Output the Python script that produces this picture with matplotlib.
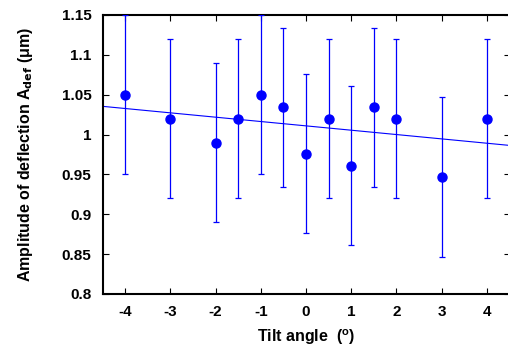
import matplotlib
matplotlib.use("Agg")
import matplotlib.pyplot as plt
import numpy as np

# Tilt angle (degrees) and measured deflection amplitude (um)
tilt = [-4, -3, -2, -1.5, -1, -0.5, 0, 0.5, 1, 1.5, 2, 3, 4]
amplitude = [1.05, 1.02, 0.99, 1.02, 1.05, 1.034, 0.976, 1.02, 0.961, 1.034, 1.02, 0.947, 1.02]
error = [0.1] * len(tilt)

xticks = [-4, -3, -2, -1, 0, 1, 2, 3, 4]
yticks = [0.8, 0.85, 0.9, 0.95, 1.0, 1.05, 1.1, 1.15]
ytick_labels = ["0.8", "0.85", "0.9", "0.95", "1", "1.05", "1.1", "1.15"]

plt.rcParams["font.family"] = ["Liberation Sans", "DejaVu Sans"]
plt.rcParams["font.weight"] = "bold"
plt.rcParams["mathtext.default"] = "regular"

fig = plt.figure(figsize=(5.08, 3.48), dpi=100)
ax = fig.add_axes([102.5 / 508, 1 - 294 / 348, 407 / 508, 279 / 348])

ax.errorbar(tilt, amplitude, yerr=error, fmt="o", color="#0000ff",
            markersize=6.5, elinewidth=0.9, capsize=2, capthick=0.9, zorder=3)

# linear fit
coef = np.polyfit(tilt, amplitude, 1)
xfit = np.array([-4.5, 4.5])
ax.plot(xfit, np.polyval(coef, xfit), color="#0000ff", lw=0.8)

ax.set_xlim(-4.5, 4.5)
ax.set_ylim(0.8, 1.15)
ax.set_xticks(xticks)
ax.set_xticklabels([str(t) for t in xticks])
ax.set_yticks(yticks)
ax.set_yticklabels(ytick_labels)
ax.tick_params(direction="in", top=True, right=True, length=4, width=0.8,
               labelsize=11, pad=8)
for s in ax.spines.values():
    s.set_linewidth(1.5)

ax.set_xlabel("Tilt angle  ($^{o}$)", fontsize=11.5, fontweight="bold", labelpad=6)
ax.set_ylabel("Amplitude of deflection A$_{\\bf def}$ ($\\mu$m)", fontsize=11.5,
              fontweight="bold", labelpad=19)

fig.savefig("out.png", dpi=100)
